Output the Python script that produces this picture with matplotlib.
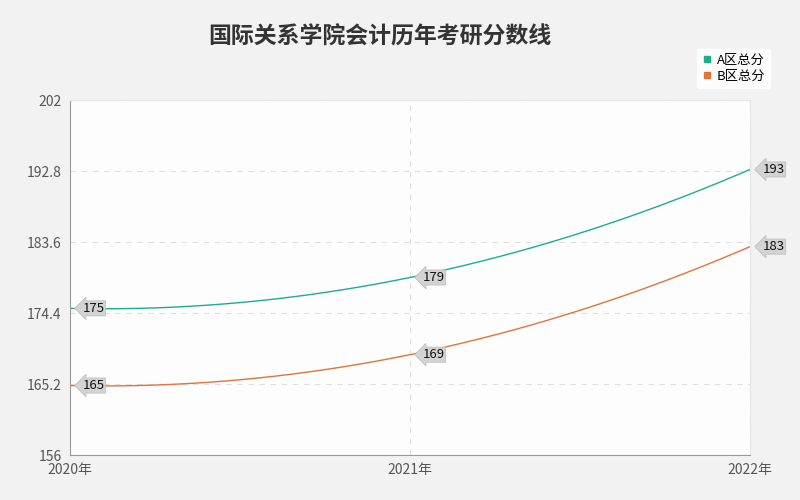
import matplotlib
matplotlib.use("Agg")
import matplotlib.pyplot as plt
import numpy as np
from matplotlib.lines import Line2D

plt.rcParams['font.family'] = ['Noto Sans CJK SC', 'DejaVu Sans']

years = ["2020年", "2021年", "2022年"]
series_names = ["A区总分", "B区总分"]
a_vals = [175, 179, 193]
b_vals = [165, 169, 183]
yticks = [156, 165.2, 174.4, 183.6, 192.8, 202]
colors = ["#1aaf8b", "#e8703a"]

fig = plt.figure(figsize=(8, 5), dpi=100)
fig.patch.set_facecolor("#f2f2f2")
ax = fig.add_axes([70/800, 45/500, 680/800, 355/500])
ax.set_facecolor("#fdfdfd")

x = np.arange(len(years))
xs = np.linspace(0, len(years) - 1, 200)
for vals, c, name in zip([a_vals, b_vals], colors, series_names):
    p = np.polyfit(x, vals, 2)
    ax.plot(xs, np.polyval(p, xs), color=c, lw=1, label=name)
    for xi, v in zip(x, vals):
        ax.annotate(str(v), (xi, v), xytext=(9, 0), textcoords="offset points",
                    va="center", ha="left", fontsize=9.5, color="#111",
                    bbox=dict(boxstyle="larrow,pad=0.08", fc="#d3d3d3", ec="#bbbbbb", lw=0.5),
                    clip_on=False, zorder=5)

ax.set_xlim(0, 2)
ax.set_ylim(156, 202)
ax.set_yticks(yticks)
ax.set_yticklabels([f"{t:g}" for t in yticks], fontsize=10, color="#555")
ax.set_xticks(x)
ax.set_xticklabels(years, fontsize=10, color="#555")
ax.grid(True, color="#e0e0e0", ls=(0, (5, 5)), lw=0.8)
for s in ["top", "right"]:
    ax.spines[s].set_color("#e6e6e6")
for s in ["left", "bottom"]:
    ax.spines[s].set_color("#999")
ax.tick_params(length=0, pad=6)

fig.text(380/800, 1 - 37/500, "国际关系学院会计历年考研分数线", fontsize=16.5, ha="center", va="center", color="#333", weight="bold")
handles = [Line2D([], [], marker="s", ls="", color=c, markersize=5) for c in colors]
fig.legend(handles, series_names, loc="upper right", bbox_to_anchor=(777/800, 1 - 42/500), handlelength=0.8,
           fontsize=9.5, frameon=True, facecolor="white", edgecolor="white", borderpad=0.4, labelspacing=0.2,
           handletextpad=0.3)
fig.savefig("out.png", dpi=100, facecolor=fig.get_facecolor())
